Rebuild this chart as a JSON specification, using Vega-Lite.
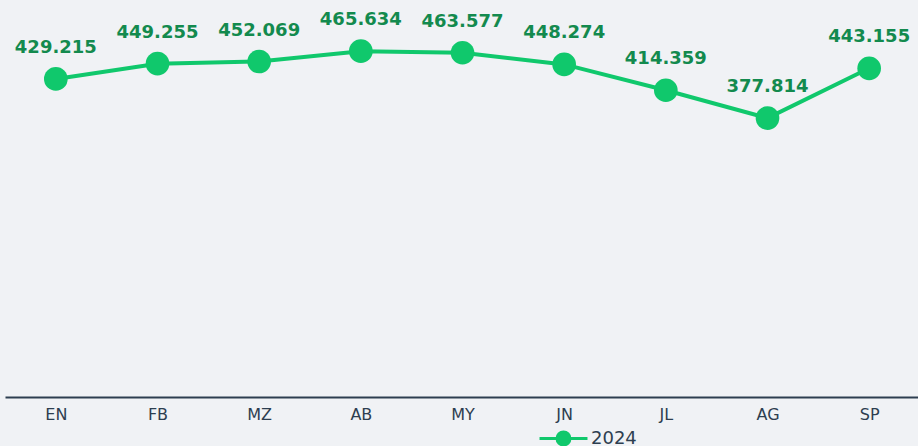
{
  "$schema": "https://vega.github.io/schema/vega-lite/v6.json",
  "width": 915,
  "height": 381,
  "autosize": "none",
  "padding": {"left": 5, "top": 25, "right": 0, "bottom": 40},
  "background": "#f0f2f5",
  "config": {"view": {"stroke": null}},
  "data": {"values": [
    {"mes": "EN", "valor": 429.215, "serie": "2024", "etiqueta": "429.215"},
    {"mes": "FB", "valor": 449.255, "serie": "2024", "etiqueta": "449.255"},
    {"mes": "MZ", "valor": 452.069, "serie": "2024", "etiqueta": "452.069"},
    {"mes": "AB", "valor": 465.634, "serie": "2024", "etiqueta": "465.634"},
    {"mes": "MY", "valor": 463.577, "serie": "2024", "etiqueta": "463.577"},
    {"mes": "JN", "valor": 448.274, "serie": "2024", "etiqueta": "448.274"},
    {"mes": "JL", "valor": 414.359, "serie": "2024", "etiqueta": "414.359"},
    {"mes": "AG", "valor": 377.814, "serie": "2024", "etiqueta": "377.814"},
    {"mes": "SP", "valor": 443.155, "serie": "2024", "etiqueta": "443.155"}
  ]},
  "encoding": {
    "x": {
      "field": "mes", "type": "nominal", "sort": null,
      "scale": {"type": "point", "padding": 0.5},
      "axis": {
        "title": null, "ticks": false, "grid": false, "offset": -9,
        "domainColor": "#2d3e50", "domainWidth": 2,
        "labelAngle": 0, "labelFont": "DejaVu Sans", "labelFontSize": 16,
        "labelColor": "#2d3e50", "labelPadding": 9
      }
    },
    "y": {
      "field": "valor", "type": "quantitative",
      "scale": {"domain": [0, 500], "nice": false, "zero": true},
      "axis": null
    }
  },
  "layer": [
    {
      "mark": {"type": "line", "strokeWidth": 4, "color": "#10c86c"},
      "encoding": {
        "color": {
          "field": "serie", "type": "nominal",
          "scale": {"domain": ["2024"], "range": ["#10c86c"]},
          "legend": {
            "title": null, "orient": "none", "legendX": 533, "legendY": 388,
            "padding": 0,
            "symbolType": "M-1,0L1,0M-0.27,0A0.27,0.27 0 1,0 0.27,0A0.27,0.27 0 1,0 -0.27,0Z",
            "symbolSize": 2300, "symbolStrokeWidth": 3,
            "symbolFillColor": "#10c86c", "symbolStrokeColor": "#10c86c",
            "labelFont": "DejaVu Sans", "labelFontSize": 18, "labelColor": "#2d3e50",
            "labelOffset": 2
          }
        }
      }
    },
    {
      "mark": {"type": "point", "filled": true, "size": 560, "opacity": 1, "color": "#10c86c"}
    },
    {
      "mark": {
        "type": "text", "font": "DejaVu Sans", "fontWeight": "bold", "fontSize": 18,
        "color": "#138a4e", "baseline": "alphabetic", "dy": -26
      },
      "encoding": {"text": {"field": "etiqueta"}}
    }
  ]
}
